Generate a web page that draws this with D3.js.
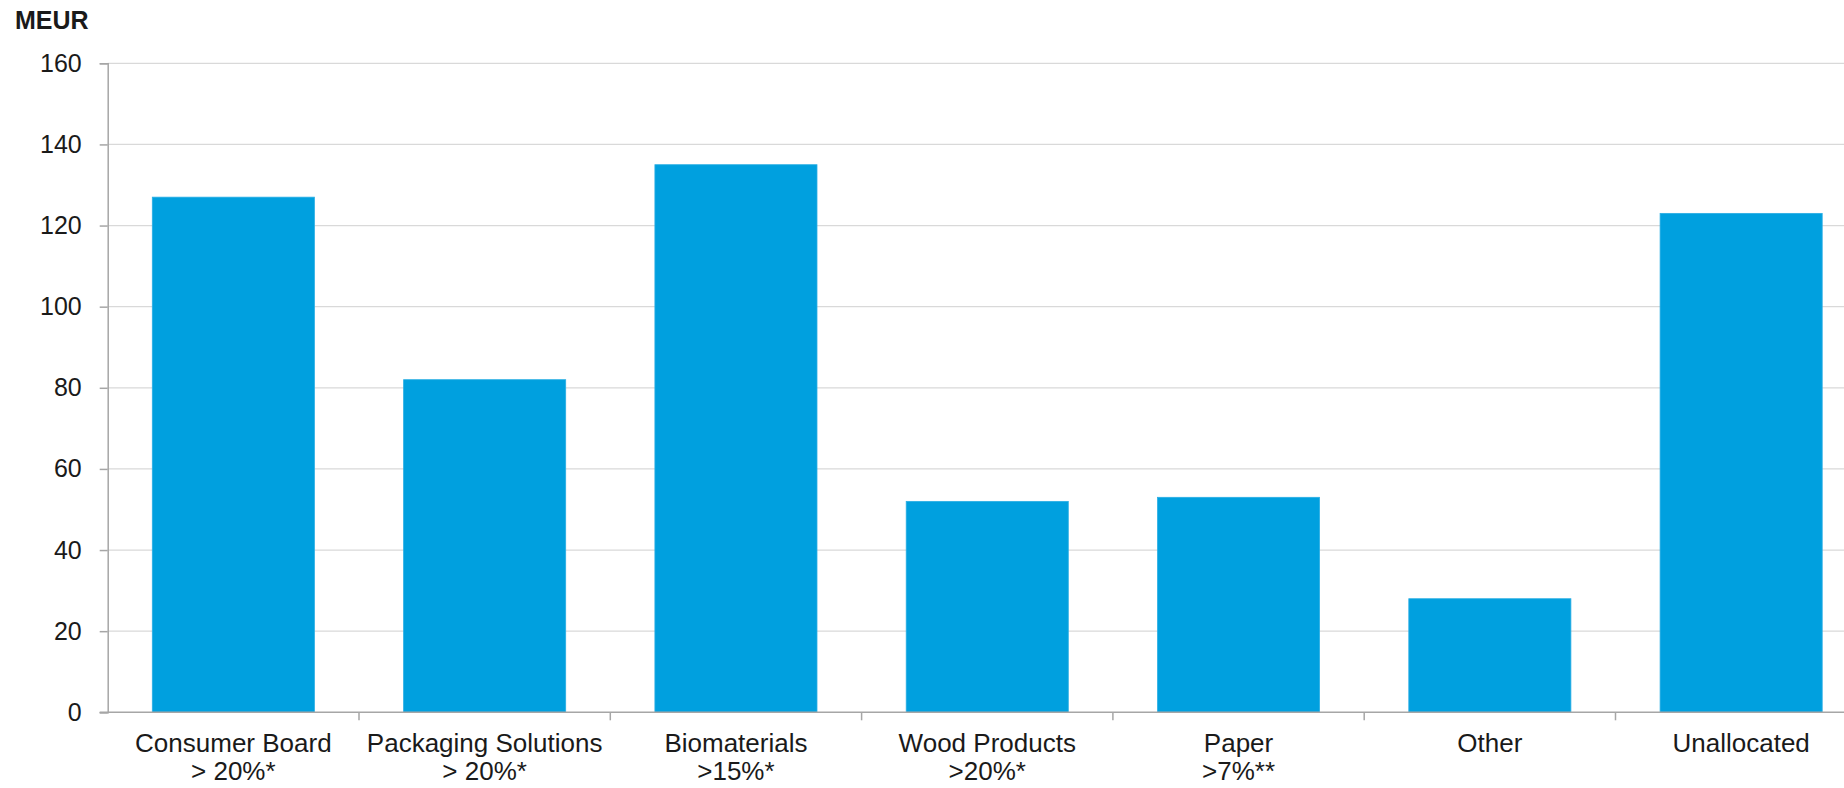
<!DOCTYPE html>
<html>
<head>
<meta charset="utf-8">
<script src="https://cdn.jsdelivr.net/npm/d3@7"></script>
<style>
    body { margin: 0; background: #fff; overflow: hidden; }
    svg { display: block; font-family: "Liberation Sans", Arial, sans-serif; }
</style>
</head>
<body>
<svg id="chart"></svg>
<script>
const categories = ['Consumer Board', 'Packaging Solutions', 'Biomaterials', 'Wood Products', 'Paper', 'Other', 'Unallocated'];
const subLabels = ['> 20%*', '> 20%*', '>15%*', '>20%*', '>7%**', '', ''];
const values = [127, 82, 135, 52, 53, 28, 123];
const yTicks = [0, 20, 40, 60, 80, 100, 120, 140, 160];

const width = 1844;
const height = 788;
const plotLeft = 107.7;
const step = 251.3;
const plotTop = 63.3;
const plotBottom = 712.3;

const svg = d3.select('#chart')
    .attr('width', width)
    .attr('height', height);

// plot runs past the right edge, like the original crop
const x = d3.scaleBand()
    .domain(categories)
    .range([plotLeft, plotLeft + step * categories.length])
    .paddingInner(0.355)
    .paddingOuter(0.1775);

const y = d3.scaleLinear()
    .domain([0, 160])
    .range([plotBottom, plotTop]);

// gridlines
svg.append('g')
    .selectAll('line')
    .data(yTicks.filter(d => d > 0))
    .enter()
    .append('line')
    .attr('x1', plotLeft)
    .attr('x2', width)
    .attr('y1', d => y(d))
    .attr('y2', d => y(d))
    .attr('stroke', '#d9d9d9')
    .attr('stroke-width', 1.3);

// bars
svg.append('g')
    .selectAll('rect')
    .data(values)
    .enter()
    .append('rect')
    .attr('x', (d, i) => x(categories[i]))
    .attr('y', d => y(d))
    .attr('width', x.bandwidth())
    .attr('height', d => plotBottom - y(d))
    .attr('fill', '#00a0df')
    .attr('stroke', '#2aaee4')
    .attr('stroke-width', 0.8);

// y axis
const yAxis = svg.append('g')
    .attr('transform', `translate(${plotLeft},0)`)
    .call(d3.axisLeft(y).tickValues(yTicks).tickSize(8).tickPadding(18));
yAxis.select('.domain').attr('stroke', '#a6a6a6').attr('stroke-width', 1.5);
yAxis.selectAll('.tick line').attr('stroke', '#a6a6a6').attr('stroke-width', 1.5);
yAxis.selectAll('.tick text')
    .attr('font-size', 25)
    .attr('fill', '#1a1a1a')
    .attr('font-family', '"Liberation Sans", Arial, sans-serif');

// x axis baseline and category ticks
const gap = (x.step() - x.bandwidth()) / 2;
svg.append('line')
    .attr('x1', plotLeft - 8)
    .attr('x2', width)
    .attr('y1', plotBottom)
    .attr('y2', plotBottom)
    .attr('stroke', '#a6a6a6')
    .attr('stroke-width', 1.5);

svg.append('g')
    .selectAll('line')
    .data(categories)
    .enter()
    .append('line')
    .attr('x1', d => x(d) - gap + x.step())
    .attr('x2', d => x(d) - gap + x.step())
    .attr('y1', plotBottom)
    .attr('y2', plotBottom + 8)
    .attr('stroke', '#a6a6a6')
    .attr('stroke-width', 1.5);

// category labels
const labels = svg.append('g')
    .selectAll('text')
    .data(categories)
    .enter()
    .append('text')
    .attr('text-anchor', 'middle')
    .attr('font-size', 26)
    .attr('fill', '#1a1a1a');

labels.append('tspan')
    .attr('x', d => x(d) + x.bandwidth() / 2)
    .attr('y', 751.5)
    .text(d => d);

labels.append('tspan')
    .attr('x', d => x(d) + x.bandwidth() / 2)
    .attr('y', 780)
    .text((d, i) => subLabels[i]);

svg.append('text')
    .attr('x', 15)
    .attr('y', 29)
    .attr('font-size', 25)
    .attr('font-weight', 'bold')
    .attr('fill', '#1a1a1a')
    .text('MEUR');
</script>
</body>
</html>
